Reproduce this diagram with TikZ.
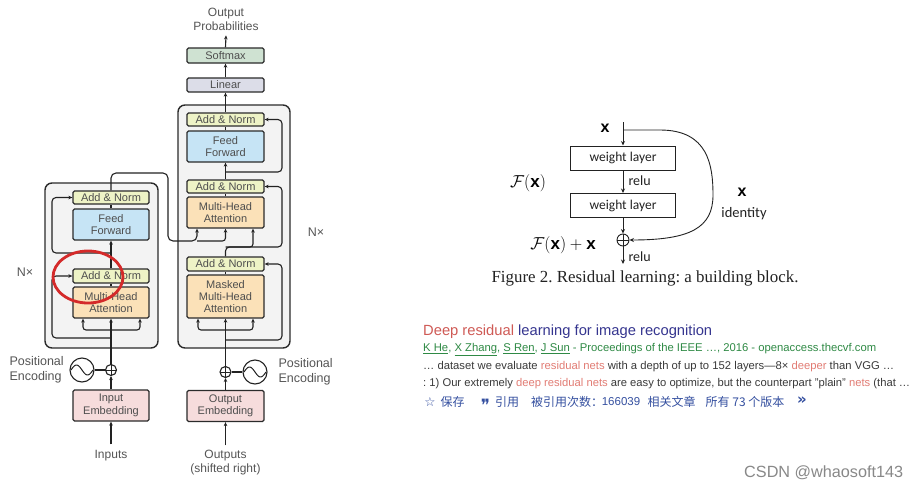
\documentclass[tikz,border=0pt]{standalone}
\usepackage{fontspec}
\usepackage{graphicx}
\setmainfont{Liberation Sans}
\newfontfamily\timesf{Liberation Serif}
\newfontfamily\calib{Carlito}
\newfontfamily\cjkf{Noto Sans CJK SC}
\newfontfamily\djv{DejaVu Sans}
\usetikzlibrary{arrows.meta,shapes.geometric}
\frenchspacing
\definecolor{anc}{HTML}{EEF3C6}
\definecolor{ffc}{HTML}{C6E4F5}
\definecolor{mhac}{HTML}{FBE1B8}
\definecolor{embc}{HTML}{F6DCDC}
\definecolor{softc}{HTML}{CFE2D2}
\definecolor{linc}{HTML}{DCDDE8}
\definecolor{outerc}{HTML}{F3F3F3}
\definecolor{boxc}{HTML}{2B2B2B}
\definecolor{txtc}{HTML}{4E4E4E}
\definecolor{lblc}{HTML}{555555}
\definecolor{linec}{HTML}{222222}
\definecolor{redc}{HTML}{D42A2A}
\definecolor{redA}{HTML}{CF5A55}
\definecolor{redB}{HTML}{E27C74}
\definecolor{blueA}{HTML}{35358F}
\definecolor{greenA}{HTML}{2F8A45}
\definecolor{greyA}{HTML}{3A3A3A}
\definecolor{blueB}{HTML}{3550A0}
\definecolor{wmc}{HTML}{888888}
\tikzset{
  blk/.style={draw=boxc, line width=1.3pt, rounded corners=1.5pt, minimum width=76pt,
    inner sep=0pt, align=center, font=\fontsize{11}{12.5}\selectfont, text=txtc},
  an/.style={blk, fill=anc, minimum height=13pt},
  ff/.style={blk, fill=ffc, minimum height=31pt},
  mha/.style={blk, fill=mhac},
  emb/.style={blk, fill=embc, minimum height=31pt},
  outer/.style={draw=boxc, line width=1.4pt, rounded corners=7pt, fill=outerc, inner sep=0pt},
  arr/.style={-{Stealth[length=4pt,width=3.6pt]}, line width=1.1pt, draw=linec},
  ln/.style={line width=1.1pt, draw=linec},
  lbl/.style={font=\fontsize{12}{14}\selectfont, text=lblc, align=center},
  plusc/.style={circle, draw=linec, line width=1.1pt, fill=white, minimum size=11pt, inner sep=0pt,
    path picture={\draw[line width=0.8pt, draw=linec] (path picture bounding box.north) -- (path picture bounding box.south)
      (path picture bounding box.west) -- (path picture bounding box.east);}},
  sinc/.style={circle, draw=linec, line width=1.1pt, fill=white, minimum size=24pt, inner sep=0pt},
  wl/.style={draw=linec, line width=1pt, minimum width=105pt, minimum height=24pt, inner sep=0pt,
    font=\calib\fontsize{13.5}{15}\selectfont, text=linec},
  rarr/.style={-{Stealth[length=4.5pt,width=4pt]}, line width=0.9pt, draw=linec},
  rlbl/.style={font=\calib\fontsize{14}{15}\selectfont, text=linec},
  srch/.style={anchor=west, inner sep=0pt},
  cj/.style={inner sep=0pt, text=blueB, font=\cjkf\fontsize{12}{14}\selectfont},
}
\begin{document}
\begin{tikzpicture}[x=1pt,y=-1pt]
\fill[white] (0,0) rectangle (916,490);
\useasboundingbox (0,0) rectangle (916,490);

% ================= Encoder =================
\node[outer, minimum width=113pt, minimum height=165pt] (encBox) at (101.5,265.5) {};
\node[an] (eAN2) at (111,197.5) {Add \& Norm};
\node[ff] (eFF) at (111,224.5) {Feed\\Forward};
\node[an, minimum height=14pt] (eAN1) at (111,276) {Add \& Norm};
\node[mha, minimum height=31pt] (eMHA) at (111,302.5) {Multi-Head\\Attention};
\node[emb] (eEmb) at (111,405.5) {Input\\Embedding};
\node[plusc] (ePlus) at (111,370) {};
\node[sinc] (eSin) at (82,370) {};
\draw[ln, line width=1pt, shift={(eSin.center)}, domain=-11:11, samples=31, smooth] plot (\x, {5*sin(16.36*\x)});
\node[lbl, inner ysep=6pt] (inputs) at (111,456) {Inputs};
\node[lbl, font=\fontsize{12.5}{15.5}\selectfont, align=left, anchor=west] (ePE) at (6,370) {Positional\\Encoding};
\node[lbl, font=\fontsize{12.5}{14}\selectfont] (eNx) at (25,272) {N×};

\coordinate (eR1) at (111,338);
\coordinate (eR2) at (111,253);
\coordinate (eB) at (111,330);
\coordinate (eBL) at (83,330);
\coordinate (eBR) at (140,330);

\draw[arr] (inputs.north) -- (eEmb.south);
\draw[arr] (eEmb.north) -- (ePlus.south);
\draw[ln] (eSin.east) -- (ePlus.west);
\draw[arr] (ePlus.north) -- (eMHA.south);
\draw[arr, rounded corners=3pt] (eB) -- (eBL) -- (eBL |- eMHA.south);
\draw[arr, rounded corners=3pt] (eB) -- (eBR) -- (eBR |- eMHA.south);
\draw[arr, rounded corners=4pt] (eR1) -- (52,338) -- (52,276) -- (eAN1.west);
\draw[ln] (eMHA.north) -- (eAN1.south);
\draw[arr] (eAN1.north) -- (eFF.south);
\draw[arr, rounded corners=4pt] (eR2) -- (52,253) -- (52,197.5) -- (eAN2.west);
\draw[ln] (eFF.north) -- (eAN2.south);

% ================= Decoder =================
\node[outer, minimum width=112pt, minimum height=243pt] (decBox) at (234,226.5) {};
\node[blk, fill=softc, minimum width=77pt, minimum height=15pt] (soft) at (225.5,55.5) {Softmax};
\node[blk, fill=linc, minimum width=77pt, minimum height=14pt] (lin) at (225.5,85) {Linear};
\node[an, minimum width=77pt] (dAN3) at (225.5,119.5) {Add \& Norm};
\node[ff, minimum width=77pt] (dFF) at (225.5,146.5) {Feed\\Forward};
\node[an, minimum width=77pt] (dAN2) at (225.5,186.5) {Add \& Norm};
\node[mha, minimum width=77pt, minimum height=31pt] (dMHA) at (225.5,212.5) {Multi-Head\\Attention};
\node[an, minimum width=77pt, minimum height=14pt] (dAN1) at (225.5,264) {Add \& Norm};
\node[mha, minimum width=77pt, minimum height=43pt, font=\fontsize{11}{12.3}\selectfont] (dMMHA) at (225.5,296.5) {Masked\\Multi-Head\\Attention};
\node[emb, minimum width=77pt] (dEmb) at (225.5,406) {Output\\Embedding};
\node[plusc] (dPlus) at (225.5,372) {};
\node[sinc] (dSin) at (255,372) {};
\draw[ln, line width=1pt, shift={(dSin.center)}, domain=-11:11, samples=31, smooth] plot (\x, {5*sin(16.36*\x)});
\node[lbl, inner ysep=5pt] (outs) at (225.5,463) {Outputs\\(shifted right)};
\node[lbl, inner ysep=5pt] (outp) at (226,19) {Output\\Probabilities};
\node[lbl, font=\fontsize{12.5}{15.5}\selectfont, align=left, anchor=west] (dPE) at (275,372) {Positional\\Encoding};
\node[lbl, font=\fontsize{12.5}{14}\selectfont] (dNx) at (316,232) {N×};

\coordinate (dB) at (225.5,330);
\coordinate (dBL) at (198,330);
\coordinate (dBR) at (253,330);
\coordinate (dR1) at (225.5,340);
\coordinate (dR2) at (225.5,172);
\coordinate (dK) at (197,241);
\coordinate (dQ) at (253,247);

\draw[arr] (outs.north) -- (dEmb.south);
\draw[arr] (dEmb.north) -- (dPlus.south);
\draw[ln] (dPlus.east) -- (dSin.west);
\draw[arr] (dPlus.north) -- (dMMHA.south);
\draw[arr, rounded corners=3pt] (dB) -- (dBL) -- (dBL |- dMMHA.south);
\draw[arr, rounded corners=3pt] (dB) -- (dBR) -- (dBR |- dMMHA.south);
\draw[arr, rounded corners=4pt] (dR1) -- (282,340) -- (282,264) -- (dAN1.east);
\draw[ln] (dMMHA.north) -- (dAN1.south);
\draw[arr, rounded corners=4pt] (dAN1.north) |- (282,247) |- (dAN2.east);
\draw[arr, rounded corners=3pt] (dAN1.north |- dQ) -| (dQ |- dMHA.south);
\draw[arr, rounded corners=5pt] (eAN2.north) |- (168,173) |- (dK) -- (dK |- dMHA.south);
\draw[arr, rounded corners=3pt] (dK) -| (dMHA.south);
\draw[ln] (dMHA.north) -- (dAN2.south);
\draw[arr] (dAN2.north) -- (dFF.south);
\draw[arr, rounded corners=4pt] (dR2) -- (282,172) -- (282,119.5) -- (dAN3.east);
\draw[ln] (dFF.north) -- (dAN3.south);
\draw[arr] (dAN3.north) -- (lin.south);
\draw[arr] (lin.north) -- (soft.south);
\draw[arr] (soft.north) -- (outp.south);

% red highlight
\node[draw=redc, line width=2.8pt, ellipse, minimum width=70pt, minimum height=52pt, inner sep=0pt] (hl) at (88,277) {};

% ================= Residual block =================
\node[wl] (wl1) at (623,158) {weight layer};
\node[wl] (wl2) at (623,205.5) {weight layer};
\node[circle, draw=linec, line width=0.9pt, minimum size=12pt, inner sep=0pt,
  path picture={\draw[line width=0.8pt, draw=linec] (path picture bounding box.north) -- (path picture bounding box.south)
      (path picture bounding box.west) -- (path picture bounding box.east);}] (rPlus) at (623,240) {};
\coordinate (rIn) at (623,122);
\coordinate (rSplit) at (623,130);
\coordinate (rOut) at (623,264);
\node (rx) at (605,128) {\fontsize{16}{16}\selectfont$\mathbf{x}$};
\draw[rarr] (rIn) -- (wl1.north);
\draw[rarr] (wl1.south) -- (wl2.north);
\draw[rarr] (wl2.south) -- (rPlus.north);
\draw[rarr] (rPlus.south) -- (rOut);
\draw[rarr] (rSplit) -- (660,130) .. controls (708,130) and (713,165) .. (713,195) .. controls (713,228) and (690,240) .. (rPlus.east);
\node[rlbl, anchor=west] (relu1) at (625,181) {relu};
\node[rlbl, anchor=west] (relu2) at (625,257) {relu};
\node (Fx) at (528,183) {\fontsize{17}{17}\selectfont$\mathcal{F}(\mathbf{x})$};
\node (Fxx) at (563,245) {\fontsize{17}{17}\selectfont$\mathcal{F}(\mathbf{x})+\mathbf{x}$};
\node (ix) at (742,192) {\fontsize{16}{16}\selectfont$\mathbf{x}$};
\node[rlbl, font=\calib\fontsize{14.5}{15}\selectfont] (idt) at (744,214) {identity};
\node[text=linec] (cap) at (645,278) {\timesf\fontsize{16.9}{17}\selectfont Figure 2. Residual learning: a building block.};

% ================= Search result =================
\node[srch] (s1) at (423,332) {\resizebox{289pt}{!}{\fontsize{13}{15}\selectfont\color{redA}Deep residual \color{blueA}learning for image recognition}};
\node[srch] (s2) at (423,350) {\resizebox{453pt}{!}{\fontsize{10.5}{12}\selectfont\color{greenA}\underline{K He}, \underline{X Zhang}, \underline{S Ren}, \underline{J Sun} - Proceedings of the IEEE …, 2016 - openaccess.thecvf.com}};
\node[srch] (s3) at (423,367) {\resizebox{471pt}{!}{\fontsize{10.5}{12}\selectfont\color{greyA}… dataset we evaluate {\color{redB}residual nets} with a depth of up to 152 layers—8× {\color{redB}deeper} than VGG …}};
\node[srch] (s4) at (423,384) {\resizebox{487pt}{!}{\fontsize{10.5}{12}\selectfont\color{greyA}: 1) Our extremely {\color{redB}deep residual nets} are easy to optimize, but the counterpart "plain" {\color{redB}nets} (that …}};
\node[cj, font=\djv\fontsize{12.5}{14}\selectfont] (c0) at (430,402) {☆};
\node[cj] (c1) at (452.5,402) {保存};
\node[cj, font=\djv\fontsize{17}{14}\selectfont] (c2) at (485.5,405) {❞};
\node[cj] (c3) at (507,402) {引用};
\node[cj] (c4) at (567,402) {被引用次数：};
\node[cj, font=\fontsize{11.5}{14}\selectfont] (c5) at (621,402) {166039};
\node[cj] (c6) at (671.5,402) {相关文章};
\node[cj] (c7) at (745,402) {所有 73 个版本};
\node[cj, font=\djv\bfseries\fontsize{15}{14}\selectfont] (c8) at (802,401) {»};

% watermark
\node[anchor=west, inner sep=0pt] (wm) at (744,473) {\resizebox{159pt}{!}{\color{wmc}\fontsize{15}{17}\selectfont CSDN @whaosoft143}};
\end{tikzpicture}
\end{document}
